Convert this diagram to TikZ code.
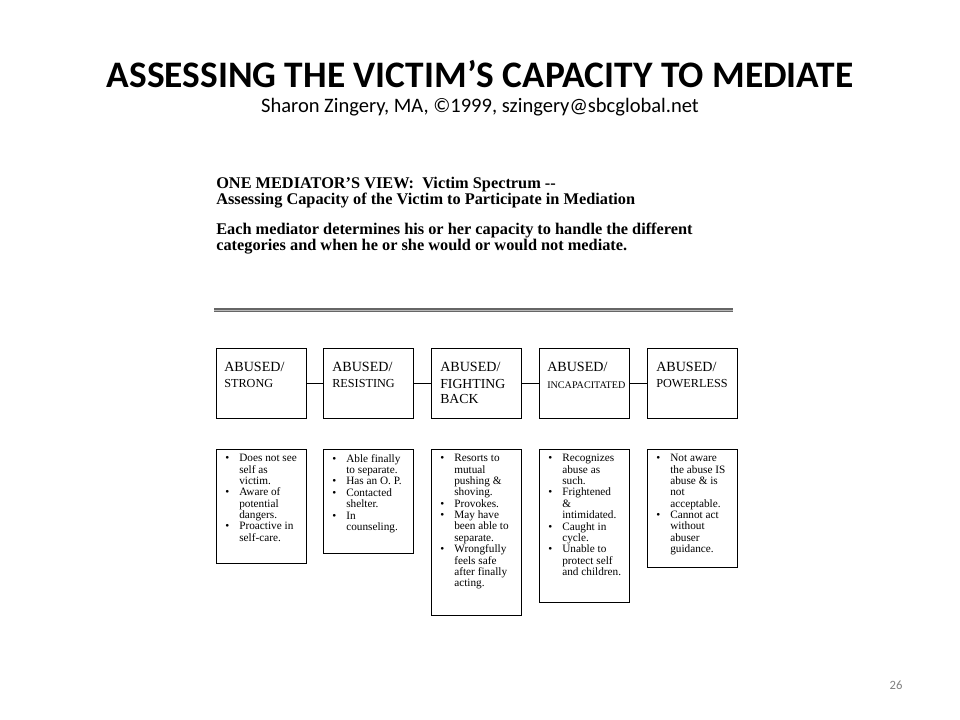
\documentclass[tikz,border=0pt]{standalone}
\usepackage{fontspec}
\setmainfont{Liberation Serif}
\newfontfamily\slidefont{Carlito}
\usetikzlibrary{positioning}

% one pixel of the slide
\def\px{0.025cm}
\newcommand{\bl}{\makebox[10pt][l]{\textbullet}}
\newcommand{\ind}{\hspace*{10pt}}
\newcommand{\listfont}{\fontsize{8}{8.1}\selectfont\setlength{\lineskiplimit}{-3pt}}

\tikzset{
  catbox/.style={draw, line width=0.7pt, anchor=north west, minimum width=90*\px, minimum height=70*\px, inner sep=0pt},
  listbox/.style={draw, line width=0.7pt, anchor=north west, minimum width=90*\px, inner sep=0pt},
  cattext/.style={anchor=north west, align=left, inner sep=0pt, font=\fontsize{10}{11}\selectfont},
  listtext/.style={anchor=north west, align=left, inner sep=0pt, font=\listfont},
}

\begin{document}
\begin{tikzpicture}[x=0.025cm, y=-0.025cm]
    \useasboundingbox (0,0) rectangle (960,720);

    % Slide title
    \node[anchor=base, inner sep=0pt, font=\slidefont\bfseries\fontsize{26.6}{28}\selectfont] (title) at (480,88) {ASSESSING THE VICTIM’S CAPACITY TO MEDIATE};
    \node[anchor=base, inner sep=0pt, font=\slidefont\fontsize{14.6}{16}\selectfont] (author) at (480,113) {Sharon Zingery, MA, ©1999, szingery@sbcglobal.net};

    % Heading of the scanned page
    \node[anchor=north west, align=left, inner sep=0pt, font=\bfseries\fontsize{11.6}{10}\selectfont] (head) at (216,177)
        {ONE MEDIATOR’S VIEW:\ \ Victim Spectrum -{}-\\Assessing Capacity of the Victim to Participate in Mediation};
    \node[anchor=north west, align=left, inner sep=0pt, font=\bfseries\fontsize{11.6}{11.4}\selectfont] (intro) at (216,223)
        {Each mediator determines his or her capacity to handle the different\\categories and when he or she would or would not mediate.};
    \coordinate (rulel) at (214,310);
    \coordinate (ruler) at (733,310);
    \draw[draw=gray!80!black, line width=0.8pt, double=gray!55, double distance=0.6pt] (rulel) -- (ruler);

    % Categories
    \node[catbox] (c1) at (216,348) {};
    \node[catbox] (c2) at (323,348) {};
    \node[catbox] (c3) at (431,348) {};
    \node[catbox] (c4) at (539,348) {};
    \node[catbox] (c5) at (647,348) {};
    \draw (c1) -- (c2);
    \draw (c2) -- (c3);
    \draw (c3) -- (c4);
    \draw (c4) -- (c5);

    \node[cattext] (t1) at (224,362) {ABUSED/\\{\fontsize{8.7}{10}\selectfont STRONG}};
    \node[cattext] (t2) at (332,362) {ABUSED/\\{\fontsize{8.7}{10}\selectfont RESISTING}};
    \node[cattext] (t3) at (440,362) {ABUSED/\\[1pt]{\fontsize{9.8}{9.4}\selectfont FIGHTING}\\[-0.6pt]{\fontsize{9.8}{9.4}\selectfont BACK}};
    \node[cattext] (t4) at (547,362) {ABUSED/\\[1pt]{\fontsize{7.2}{9}\selectfont INCAPACITATED}};
    \node[cattext] (t5) at (656,362) {ABUSED/\\{\fontsize{8.7}{10}\selectfont POWERLESS}};

    % Descriptions
    \node[listbox, minimum height=114*\px] (d1) at (216,449) {};
    \node[listbox, minimum height=104*\px] (d2) at (323,449) {};
    \node[listbox, minimum height=166*\px] (d3) at (431,449) {};
    \node[listbox, minimum height=153*\px] (d4) at (539,449) {};
    \node[listbox, minimum height=118*\px] (d5) at (647,449) {};

    \node[listtext] (l1) at (225,454) {\bl Does not see\\\ind self as\\\ind victim.\\\bl Aware of\\\ind potential\\\ind dangers.\\\bl Proactive in\\\ind self-care.};
    \node[listtext] (l2) at (332,454) {\bl Able finally\\\ind to separate.\\\bl Has an O. P.\\\bl Contacted\\\ind shelter.\\\bl In\\\ind counseling.};
    \node[listtext] (l3) at (440,454) {\bl Resorts to\\\ind mutual\\\ind pushing \&\\\ind shoving.\\\bl Provokes.\\\bl May have\\\ind been able to\\\ind separate.\\\bl Wrongfully\\\ind feels safe\\\ind after finally\\\ind acting.};
    \node[listtext] (l4) at (548,454) {\bl Recognizes\\\ind abuse as\\\ind such.\\\bl Frightened\\\ind \&\\\ind intimidated.\\\bl Caught in\\\ind cycle.\\\bl Unable to\\\ind protect self\\\ind and children.};
    \node[listtext] (l5) at (656,454) {\bl Not aware\\\ind the abuse IS\\\ind abuse \& is\\\ind not\\\ind acceptable.\\\bl Cannot act\\\ind without\\\ind abuser\\\ind guidance.};

    % Slide number
    \node[font=\slidefont\fontsize{9}{10}\selectfont, text=gray] (page) at (896,685) {26};
\end{tikzpicture}
\end{document}
